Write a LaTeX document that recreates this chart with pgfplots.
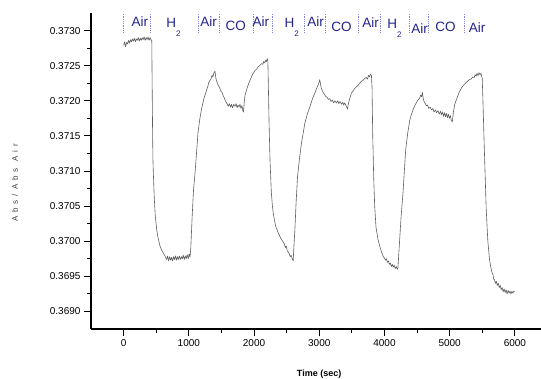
\documentclass[border=0pt]{standalone}
\usepackage{fontspec}
\setmainfont{Liberation Sans}
\usepackage{pgfplots}
\pgfplotsset{compat=1.18}

\definecolor{gasblue}{RGB}{35,35,140}
\definecolor{sepblue}{RGB}{130,130,215}
\definecolor{trace}{RGB}{95,95,95}

\begin{document}
\begin{tikzpicture}
\path[use as bounding box] (-91pt,-49pt) rectangle (450pt,329pt);
\begin{axis}[
  scale only axis, width=450pt, height=316pt,
  xmin=-500, xmax=6400, ymin=0.36875, ymax=0.37325,
  axis x line*=bottom, axis y line*=left,
  axis line style={line width=1.2pt,-},
  xtick={0,1000,2000,3000,4000,5000,6000},
  ytick={0.3690,0.3695,0.3700,0.3705,0.3710,0.3715,0.3720,0.3725,0.3730},
  minor x tick num=1, minor y tick num=1,
  tick align=outside, major tick length=7pt, minor tick length=4pt,
  tick style={line width=1pt, black},
  scaled y ticks=false, scaled x ticks=false,
  /pgf/number format/assume math mode=true,
  yticklabel style={/pgf/number format/.cd, fixed, fixed zerofill, precision=4},
  xticklabel style={/pgf/number format/.cd, set thousands separator={}},
  tick label style={font=\fontsize{10}{10}\selectfont},
  xlabel={Time (sec)},
  xlabel style={at={(axis description cs:0.507,-0.142)}, anchor=center,
    font=\bfseries\fontsize{9}{9}\selectfont},
  ylabel={Abs/Abs Air},
  ylabel style={at={(axis description cs:-0.169,0.462)}, anchor=center,
    font=\fontsize{8}{8}\selectfont\addfontfeatures{LetterSpace=50}, text=black!75},
]

% gas switching marks
\pgfplotsinvokeforeach{0,416,1145,1467,1987,2278,2779,3100,3595,3942,4386,4677,5218}{
  \addplot[sepblue, densely dotted, line width=0.8pt, forget plot]
    coordinates {(#1,0.37297) (#1,0.37325)};
}

% absorbance ratio trace
\addplot[trace, line width=0.6pt, line join=round] coordinates {
(0,0.37279)(15,0.37284)(30,0.37277)(45,0.37283)(60,0.37281)(75,0.37286)(90,0.37282)
(105,0.37287)(120,0.37284)(135,0.37288)(150,0.37285)(165,0.37289)(180,0.37284)
(195,0.37288)(210,0.37286)(225,0.37290)(240,0.37285)(255,0.37289)(270,0.37286)
(285,0.37290)(300,0.37287)(315,0.37291)(330,0.37286)(345,0.37290)(360,0.37287)
(375,0.37291)(390,0.37286)(405,0.37290)(420,0.37287)(432,0.37286)
(438,0.37220)(444,0.37160)(450,0.37115)(456,0.37097)(470,0.37062)(485,0.37037)
(508,0.37016)(530,0.37004)(559,0.36993)(585,0.36987)(609,0.36983)(635,0.36979)
(661,0.36974)(675,0.36979)(690,0.36972)(705,0.36978)(720,0.36973)(735,0.36977)
(750,0.36972)(765,0.36978)(780,0.36974)(795,0.36979)(810,0.36973)(825,0.36978)
(840,0.36974)(855,0.36979)(870,0.36974)(885,0.36978)(900,0.36975)(915,0.36980)
(930,0.36974)(945,0.36979)(960,0.36975)(975,0.36981)(990,0.36975)(1005,0.36982)
(1018,0.36977)(1030,0.36990)(1049,0.37031)(1072,0.37073)(1095,0.37097)
(1120,0.37128)(1141,0.37155)(1170,0.37175)(1197,0.37189)(1230,0.37203)
(1255,0.37210)(1274,0.37216)(1290,0.37220)(1305,0.37226)(1324,0.37229)
(1340,0.37231)(1355,0.37236)(1370,0.37234)(1385,0.37240)(1401,0.37242)
(1415,0.37232)(1430,0.37227)(1451,0.37222)(1470,0.37219)(1490,0.37214)
(1510,0.37212)(1528,0.37207)(1545,0.37204)(1560,0.37200)(1580,0.37197)
(1604,0.37192)(1620,0.37196)(1640,0.37191)(1655,0.37195)(1670,0.37190)
(1690,0.37195)(1707,0.37192)(1725,0.37196)(1740,0.37190)(1755,0.37194)
(1770,0.37191)(1785,0.37195)(1800,0.37189)(1815,0.37193)(1828,0.37186)
(1838,0.37184)(1848,0.37196)(1860,0.37207)(1880,0.37214)(1900,0.37220)
(1937,0.37229)(1975,0.37237)(2013,0.37243)(2040,0.37245)(2060,0.37248)
(2085,0.37250)(2116,0.37253)(2135,0.37252)(2150,0.37256)(2165,0.37254)
(2180,0.37258)(2192,0.37256)(2202,0.37260)(2212,0.37257)
(2220,0.37220)(2230,0.37170)(2245,0.37115)(2265,0.37070)(2280,0.37052)
(2294,0.37040)(2330,0.37022)(2370,0.37012)(2410,0.37004)(2447,0.36999)
(2465,0.36996)(2480,0.36991)(2495,0.36993)(2510,0.36986)(2523,0.36985)
(2540,0.36982)(2555,0.36978)(2570,0.36980)(2585,0.36975)(2600,0.36972)
(2610,0.36990)(2626,0.37016)(2645,0.37055)(2667,0.37092)(2700,0.37120)
(2728,0.37140)(2779,0.37168)(2820,0.37182)(2855,0.37191)(2900,0.37204)
(2932,0.37211)(2970,0.37220)(2990,0.37224)(3008,0.37230)
(3030,0.37218)(3059,0.37212)(3080,0.37209)(3100,0.37206)(3120,0.37205)
(3140,0.37202)(3162,0.37203)(3180,0.37199)(3200,0.37201)(3220,0.37197)
(3240,0.37200)(3264,0.37197)(3285,0.37200)(3300,0.37196)(3320,0.37199)
(3340,0.37195)(3360,0.37198)(3375,0.37194)(3391,0.37197)(3410,0.37193)
(3425,0.37190)(3433,0.37188)(3445,0.37195)(3460,0.37201)(3494,0.37211)
(3520,0.37214)(3540,0.37217)(3560,0.37219)(3595,0.37222)(3620,0.37225)
(3650,0.37228)(3670,0.37229)(3697,0.37232)(3720,0.37233)(3740,0.37231)
(3755,0.37236)(3770,0.37234)(3785,0.37238)(3800,0.37236)
(3809,0.37220)(3820,0.37150)(3835,0.37090)(3850,0.37050)(3870,0.37020)
(3900,0.37003)(3930,0.36992)(3953,0.36985)(3970,0.36981)(3982,0.36978)
(4000,0.36976)(4015,0.36973)(4030,0.36975)(4045,0.36970)(4060,0.36972)
(4075,0.36967)(4090,0.36969)(4105,0.36964)(4120,0.36967)(4135,0.36963)
(4150,0.36966)(4165,0.36961)(4180,0.36964)(4195,0.36960)(4207,0.36962)
(4215,0.36975)(4233,0.37002)(4255,0.37035)(4284,0.37069)(4305,0.37100)
(4325,0.37130)(4355,0.37153)(4387,0.37172)(4410,0.37180)(4437,0.37187)
(4475,0.37195)(4513,0.37201)(4540,0.37204)(4555,0.37208)(4570,0.37206)
(4581,0.37212)(4595,0.37203)(4610,0.37198)(4625,0.37196)(4642,0.37193)
(4660,0.37194)(4680,0.37189)(4700,0.37191)(4720,0.37187)(4743,0.37189)
(4760,0.37184)(4780,0.37187)(4800,0.37183)(4820,0.37186)(4840,0.37181)
(4860,0.37185)(4872,0.37180)(4890,0.37184)(4905,0.37178)(4920,0.37183)
(4935,0.37177)(4950,0.37182)(4965,0.37176)(4980,0.37181)(4995,0.37175)
(5010,0.37179)(5025,0.37172)(5040,0.37170)(5060,0.37186)(5080,0.37196)
(5101,0.37201)(5140,0.37211)(5178,0.37218)(5220,0.37223)(5254,0.37226)
(5300,0.37230)(5330,0.37231)(5355,0.37234)(5375,0.37233)(5390,0.37237)
(5405,0.37235)(5420,0.37239)(5435,0.37236)(5450,0.37240)(5465,0.37237)
(5480,0.37239)(5490,0.37235)(5499,0.37232)
(5510,0.37200)(5525,0.37150)(5545,0.37090)(5560,0.37045)(5585,0.37000)
(5611,0.36974)(5630,0.36963)(5650,0.36955)(5665,0.36952)(5675,0.36946)
(5688,0.36945)(5700,0.36940)(5715,0.36943)(5730,0.36937)(5745,0.36940)
(5760,0.36934)(5775,0.36937)(5790,0.36931)(5805,0.36934)(5820,0.36928)
(5835,0.36932)(5850,0.36927)(5865,0.36931)(5880,0.36925)(5895,0.36930)
(5910,0.36926)(5925,0.36929)(5940,0.36925)(5955,0.36929)(5970,0.36926)
(5985,0.36929)(5995,0.36928)
};

% gas labels
\begin{scope}[every node/.style={anchor=base, text=gasblue, inner sep=0pt,
    font=\fontsize{13.5}{13.5}\selectfont}]
  \node at (axis cs:248,0.373061) {Air};
  \node at (axis cs:763,0.373047) {H\raisebox{-9pt}{\fontsize{8}{8}\selectfont 2}};
  \node at (axis cs:1304,0.373061) {Air};
  \node at (axis cs:1721,0.373000) {CO};
  \node at (axis cs:2105,0.373057) {Air};
  \node at (axis cs:2577,0.373047) {H\raisebox{-9pt}{\fontsize{8}{8}\selectfont 2}};
  \node at (axis cs:2945,0.373057) {Air};
  \node at (axis cs:3340,0.372993) {CO};
  \node at (axis cs:3787,0.373050) {Air};
  \node at (axis cs:4152,0.373028) {H\raisebox{-9pt}{\fontsize{8}{8}\selectfont 2}};
  \node at (axis cs:4539,0.372957) {Air};
  \node at (axis cs:4936,0.372986) {CO};
  \node at (axis cs:5420,0.372972) {Air};
\end{scope}
\end{axis}
\end{tikzpicture}
\end{document}
